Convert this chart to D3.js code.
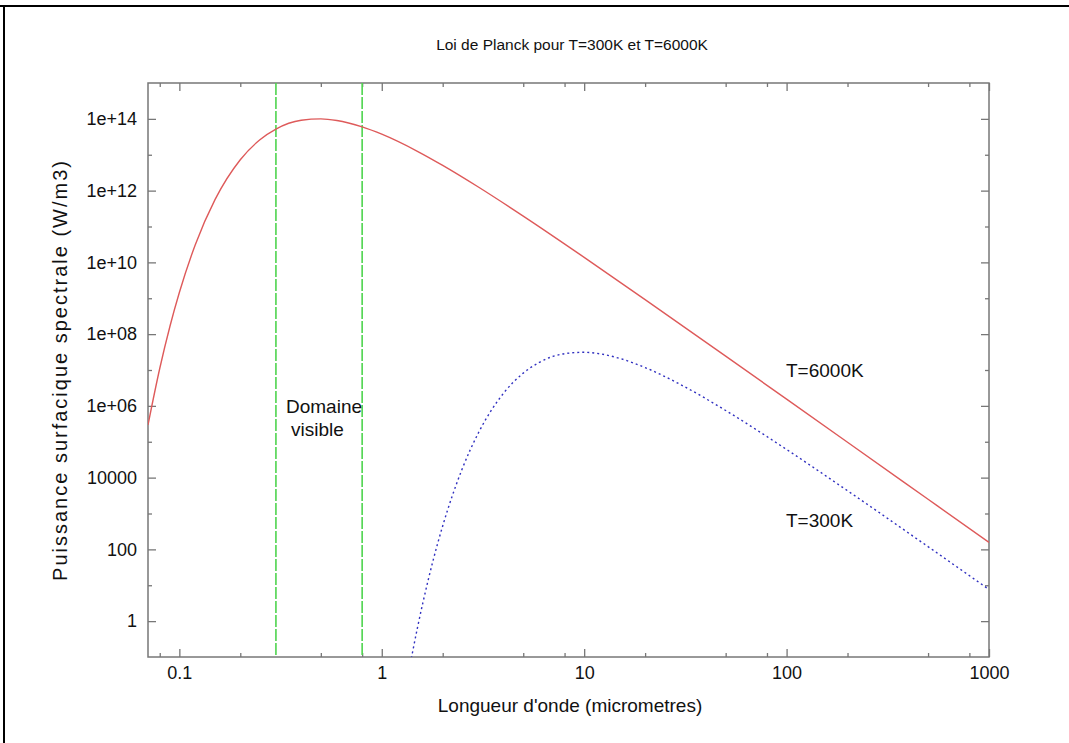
<!DOCTYPE html>
<html>
<head>
<meta charset="utf-8">
<script src="https://cdn.jsdelivr.net/npm/d3@7"></script>
<style>
  body { margin: 0; background: #fff; overflow: hidden; }
  svg { display: block; }
  text { font-family: "Liberation Sans", Arial, sans-serif; fill: #111; }
</style>
</head>
<body>
<div id="chart"></div>
<script>
// courbe T=6000K (longueur d'onde en micrometres, puissance en W/m3)
var lambda6000 = [0.07, 0.08, 0.09, 0.1, 0.12, 0.15, 0.2, 0.25, 0.3, 0.4, 0.5, 0.6, 0.8, 1, 1.5, 2, 3, 5, 10, 20, 50, 100, 200, 500, 1000];
var values6000 = [2.94e5, 1.10e7, 1.71e8, 1.44e9, 3.16e10, 5.60e11, 7.26e12, 2.62e13, 5.20e13, 9.13e13, 9.98e13, 9.01e13, 5.99e13, 3.74e13, 1.25e13, 5.05e12, 1.26e12, 1.95e11, 1.38e10, 9.18e8, 2.44e7, 1.54e6, 9.69e4, 2490, 156];

// courbe T=300K
var lambda300 = [1.4, 1.5, 1.6, 1.7, 1.8, 2, 2.5, 3, 4, 5, 6, 8, 10, 12, 15, 20, 30, 50, 100, 200, 500, 1000];
var values300 = [0.092, 0.643, 3.44, 14.8, 53.4, 450, 1.79e4, 1.75e5, 2.27e6, 8.17e6, 1.63e7, 2.85e7, 3.12e7, 2.82e7, 2.10e7, 1.17e7, 3.90e6, 7.44e5, 6.08e4, 4314, 119, 7.62];

var xMajorTicks = [0.1, 1, 10, 100, 1000];
var xMinorTicks = [0.08, 0.2, 0.5, 0.8, 2, 5, 8, 20, 50, 80, 200, 500, 800];
var yMajorTicks = [1, 100, 1e4, 1e6, 1e8, 1e10, 1e12, 1e14];
var yMinorTicks = [10, 1000, 1e5, 1e7, 1e9, 1e11, 1e13];
var visibleBounds = [0.3, 0.8];

var width = 1069;
var height = 743;
var plotLeft = 148, plotRight = 989, plotTop = 83, plotBottom = 657;

var svg = d3.select("#chart")
  .append("svg")
    .attr("width", width)
    .attr("height", height);

// cadre exterieur (haut et gauche)
svg.append("line").attr("x1", 0).attr("x2", width).attr("y1", 6).attr("y2", 6)
  .attr("stroke", "#000").attr("stroke-width", 2);
svg.append("line").attr("x1", 4).attr("x2", 4).attr("y1", 5).attr("y2", height)
  .attr("stroke", "#000").attr("stroke-width", 2);

var x = d3.scaleLog().domain([0.07, 1000]).range([plotLeft, plotRight]);
var y = d3.scaleLog().domain([0.1, 1e15]).range([plotBottom, plotTop]);

function yFormat(v) {
  var e = Math.round(Math.log10(v));
  return (e < 5) ? String(v) : "1e+" + (e < 10 ? "0" + e : e);
}

var axisColor = "#777";

function styleAxis(g) {
  g.select(".domain").remove();
  g.selectAll(".tick line").attr("stroke", axisColor).attr("stroke-width", 1.3);
  g.selectAll(".tick text").style("font-size", "18px").attr("fill", "#111");
}

// axes du bas et de gauche avec etiquettes
svg.append("g").attr("transform", "translate(0," + plotBottom + ")")
  .call(d3.axisBottom(x).tickValues(xMajorTicks).tickFormat(function(d){ return String(d); }).tickSize(-8).tickPadding(9))
  .call(styleAxis);
svg.append("g").attr("transform", "translate(0," + plotBottom + ")")
  .call(d3.axisBottom(x).tickValues(xMinorTicks).tickFormat("").tickSize(-4))
  .call(styleAxis);
svg.append("g").attr("transform", "translate(" + plotLeft + ",0)")
  .call(d3.axisLeft(y).tickValues(yMajorTicks).tickFormat(yFormat).tickSize(-8).tickPadding(11))
  .call(styleAxis);
svg.append("g").attr("transform", "translate(" + plotLeft + ",0)")
  .call(d3.axisLeft(y).tickValues(yMinorTicks).tickFormat("").tickSize(-4))
  .call(styleAxis);

// axes miroirs en haut et a droite
svg.append("g").attr("transform", "translate(0," + plotTop + ")")
  .call(d3.axisTop(x).tickValues(xMajorTicks).tickFormat("").tickSize(-8))
  .call(styleAxis);
svg.append("g").attr("transform", "translate(0," + plotTop + ")")
  .call(d3.axisTop(x).tickValues(xMinorTicks).tickFormat("").tickSize(-4))
  .call(styleAxis);
svg.append("g").attr("transform", "translate(" + plotRight + ",0)")
  .call(d3.axisRight(y).tickValues(yMajorTicks).tickFormat("").tickSize(-8))
  .call(styleAxis);
svg.append("g").attr("transform", "translate(" + plotRight + ",0)")
  .call(d3.axisRight(y).tickValues(yMinorTicks).tickFormat("").tickSize(-4))
  .call(styleAxis);

// bordure du graphe
svg.append("rect")
  .attr("x", plotLeft).attr("y", plotTop)
  .attr("width", plotRight - plotLeft).attr("height", plotBottom - plotTop)
  .attr("fill", "none").attr("stroke", axisColor).attr("stroke-width", 1.5);

svg.append("clipPath").attr("id", "plotClip")
  .append("rect").attr("x", plotLeft).attr("y", plotTop).attr("width", plotRight - plotLeft).attr("height", plotBottom - plotTop);

var plot = svg.append("g").attr("clip-path", "url(#plotClip)");

// domaine visible
plot.selectAll(".visible")
  .data(visibleBounds)
  .enter()
  .append("line")
    .attr("x1", function(d){ return x(d); })
    .attr("x2", function(d){ return x(d); })
    .attr("y1", plotTop).attr("y2", plotBottom)
    .attr("stroke", "#4fd44f")
    .attr("stroke-width", 1.6)
    .attr("stroke-dasharray", "12,2");

var line = d3.line()
  .x(function(d){ return x(d[0]); })
  .y(function(d){ return y(d[1]); })
  .curve(d3.curveMonotoneX);

plot.append("path")
  .datum(d3.zip(lambda6000, values6000))
  .attr("d", line)
  .attr("fill", "none")
  .attr("stroke", "#de5a5a")
  .attr("stroke-width", 1.4);

plot.append("path")
  .datum(d3.zip(lambda300, values300))
  .attr("d", line)
  .attr("fill", "none")
  .attr("stroke", "#3030c0")
  .attr("stroke-width", 1.4)
  .attr("stroke-dasharray", "2,3");

// textes
svg.append("text")
  .attr("x", 572).attr("y", 50)
  .attr("text-anchor", "middle")
  .style("font-size", "15.5px")
  .text("Loi de Planck pour T=300K et T=6000K");

svg.append("text")
  .attr("x", 570).attr("y", 712)
  .attr("text-anchor", "middle")
  .style("font-size", "19px")
  .text("Longueur d'onde (micrometres)");

svg.append("text")
  .attr("transform", "translate(67," + ((plotTop + plotBottom) / 2) + ") rotate(-90)")
  .attr("text-anchor", "middle")
  .style("font-size", "20px")
  .style("letter-spacing", "2px")
  .text("Puissance surfacique spectrale (W/m3)");

svg.append("text").attr("x", 786).attr("y", 377).style("font-size", "19px").text("T=6000K");
svg.append("text").attr("x", 786).attr("y", 527).style("font-size", "19px").text("T=300K");
svg.append("text").attr("x", 286).attr("y", 413).style("font-size", "19px").text("Domaine");
svg.append("text").attr("x", 291).attr("y", 436).style("font-size", "19px").text("visible");
</script>
</body>
</html>
